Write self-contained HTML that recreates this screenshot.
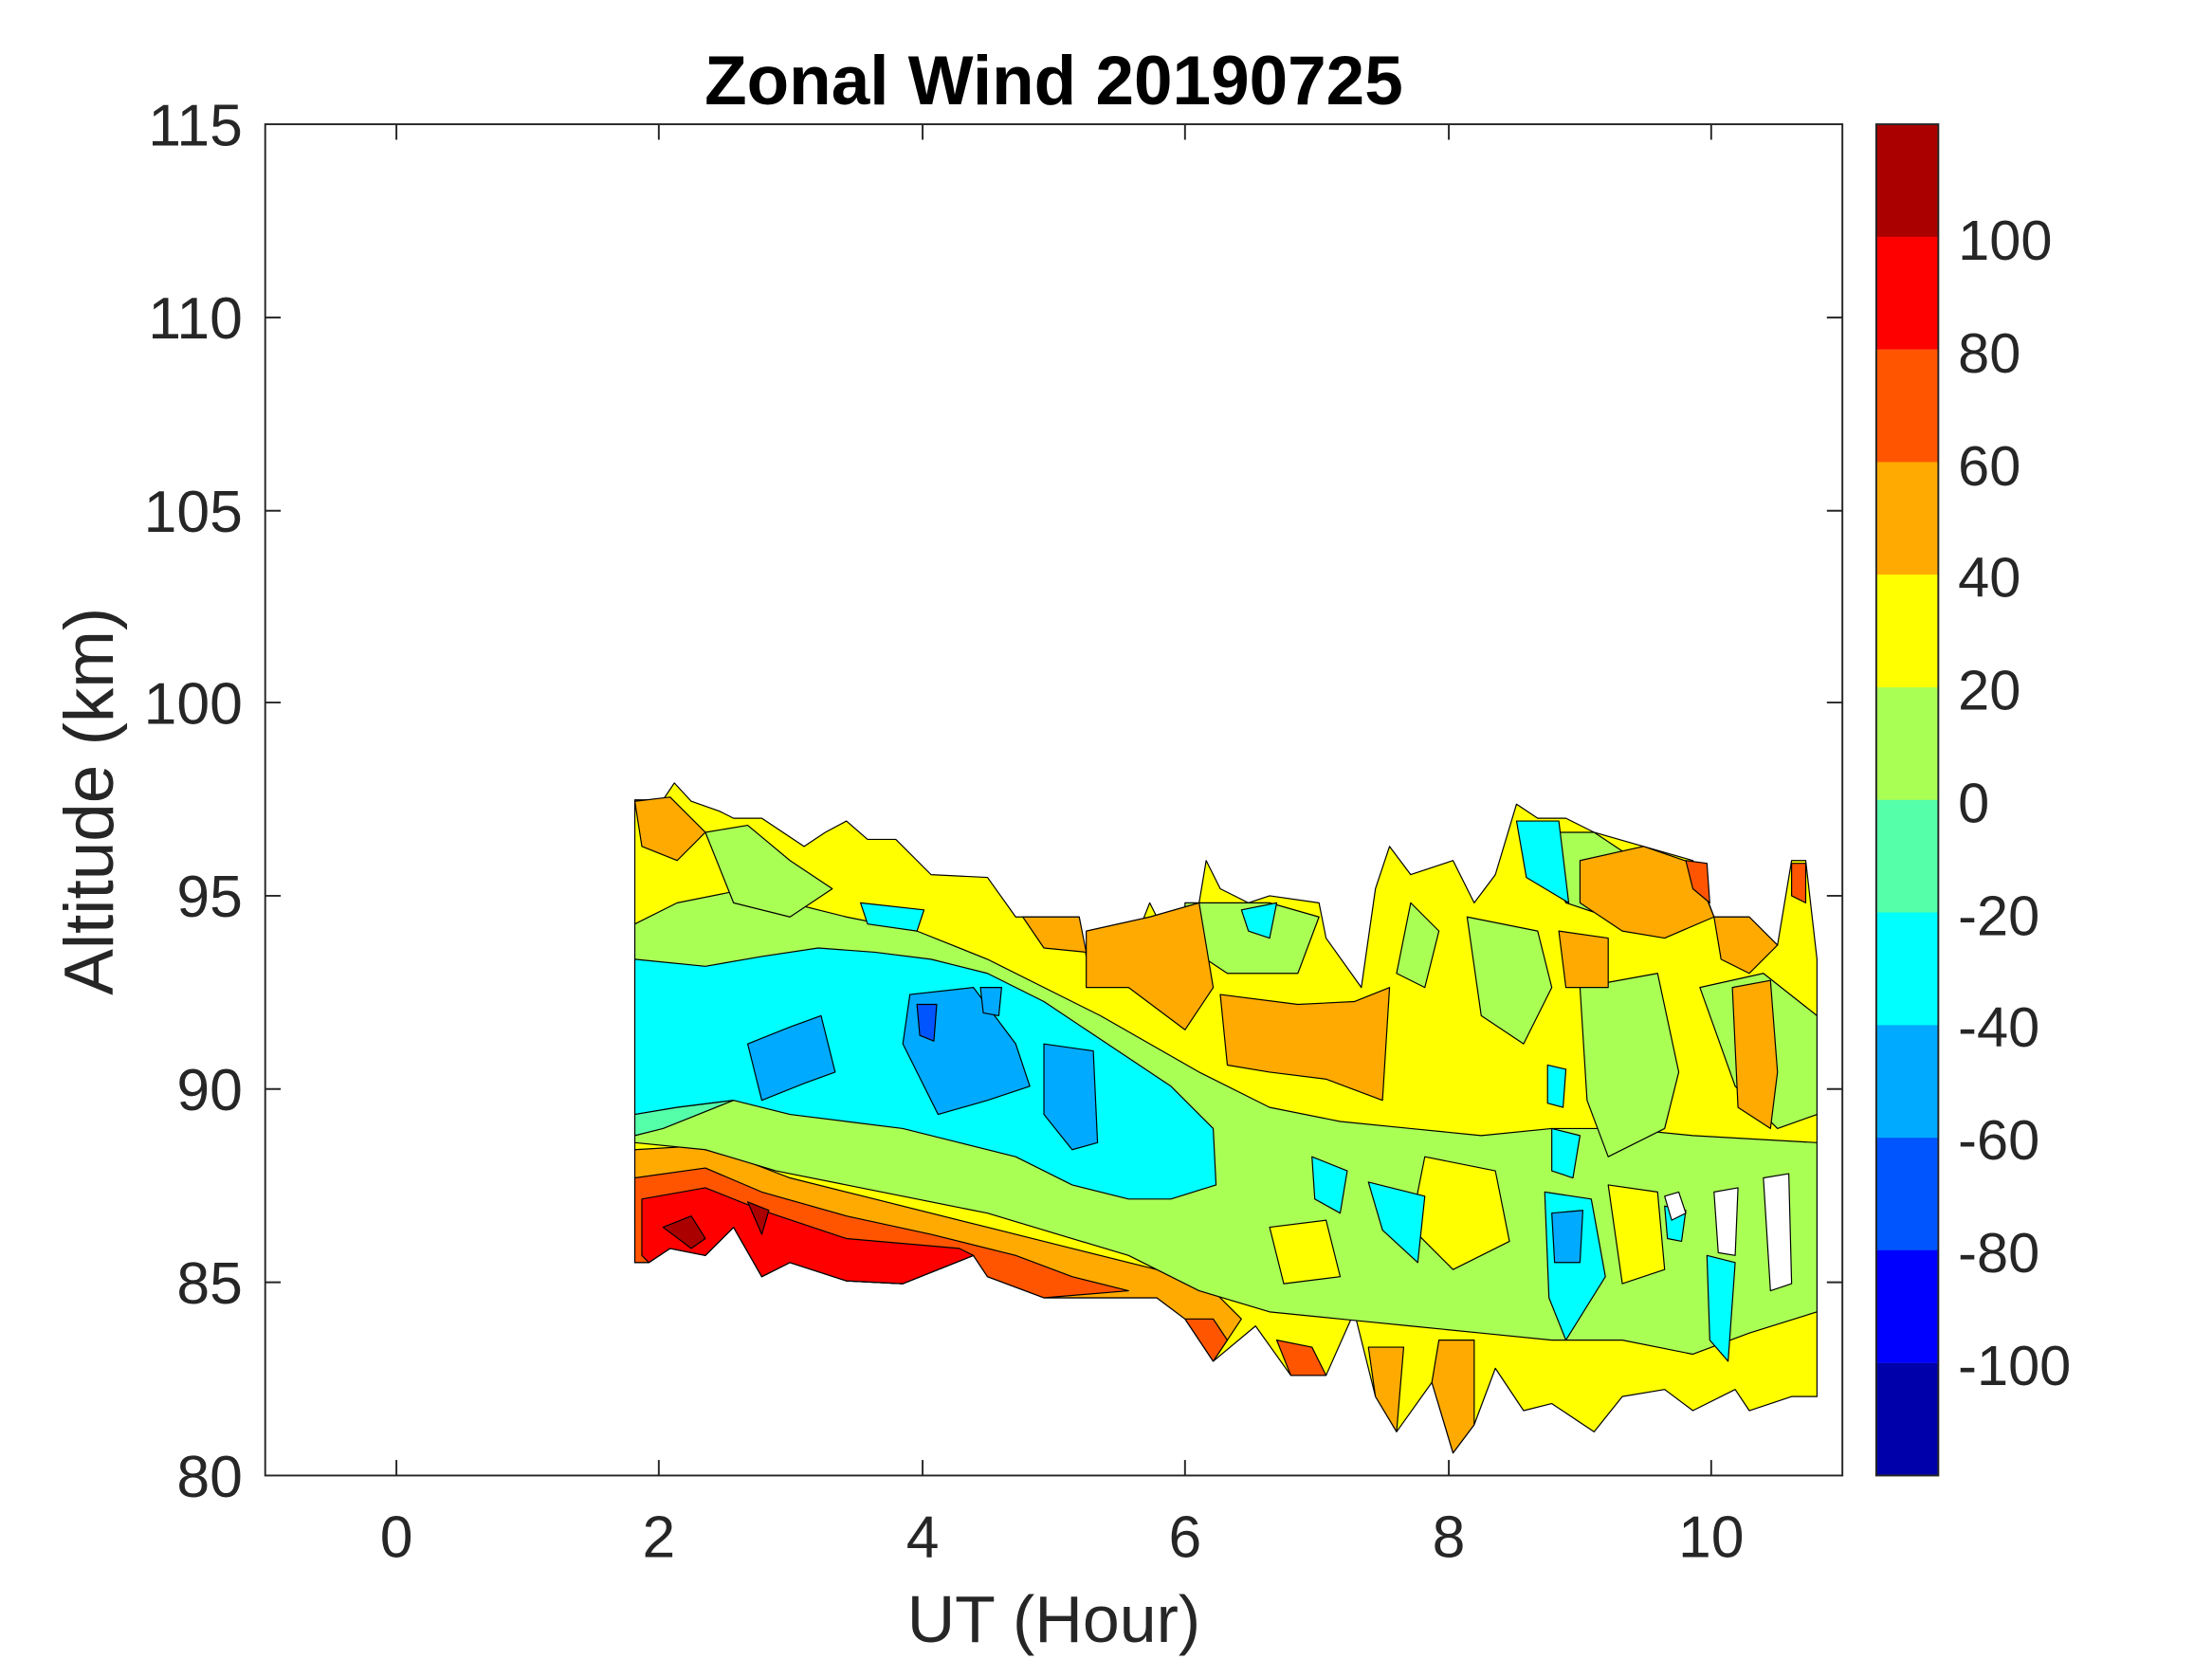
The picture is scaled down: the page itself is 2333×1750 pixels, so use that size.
<!DOCTYPE html>
<html><head><meta charset="utf-8"><style>html,body{margin:0;padding:0;background:#fff}svg{display:block}</style></head>
<body>
<svg width="2333" height="1750" viewBox="0 0 1568 1176" xmlns="http://www.w3.org/2000/svg" font-family="Liberation Sans, sans-serif">
<rect width="1568" height="1176" fill="#fff"/>
<g stroke="#000" stroke-width="0.8" stroke-linejoin="round">
<polygon fill="#ffff00" points="450,567 470,567 478,555 490,568 510,575 520,580 540,580 555,590 570,600 585,590 600,582 615,595 635,595 660,620 700,622 720,650 765,650 770,678 800,678 815,640 825,660 850,640 855,610 865,630 885,640 900,635 935,640 940,665 965,700 975,630 985,600 1000,620 1030,610 1045,640 1060,620 1075,570 1090,580 1110,580 1130,590 1165,600 1200,610 1215,650 1240,650 1260,670 1270,610 1280,610 1288,680 1288,990 1270,990 1240,1000 1230,985 1200,1000 1180,985 1150,990 1130,1015 1100,995 1080,1000 1060,970 1045,1010 1030,1030 1015,980 990,1015 975,990 960,930 940,975 915,975 890,940 860,965 840,935 820,920 740,920 700,905 690,890 640,910 600,908 560,895 540,905 520,870 500,890 475,885 460,895 450,895"/>
<polygon fill="#ffaa00" points="450,815 500,812 560,835 620,850 700,870 760,885 820,900 860,915 880,935 860,965 840,935 820,920 740,920 700,905 690,890 640,910 600,908 560,895 540,905 520,870 500,890 475,885 460,895 450,895"/>
<polygon fill="#ff5500" points="450,835 500,828 540,845 600,862 660,875 720,890 760,905 800,915 740,920 700,905 690,890 640,910 600,908 560,895 540,905 520,870 500,890 475,885 460,895 450,895"/>
<polygon fill="#ff0000" points="455,850 500,842 540,858 600,878 680,885 690,890 640,910 600,908 560,895 540,905 520,870 500,890 475,885 460,895 455,890"/>
<polygon fill="#aa0000" points="470,870 490,862 500,878 490,885"/>
<polygon fill="#aa0000" points="530,852 545,858 540,875"/>
<polygon fill="#aaff55" points="450,655 480,640 520,632 560,640 600,650 650,660 700,680 780,720 850,760 900,785 950,795 1000,800 1050,805 1100,800 1150,800 1200,805 1288,810 1288,930 1240,945 1200,960 1150,950 1100,950 1050,945 1000,940 950,935 900,930 850,915 800,890 750,875 700,860 650,850 600,840 550,830 500,815 450,810"/>
<polygon fill="#aaff55" points="500,590 530,585 560,610 590,630 560,650 520,640"/>
<polygon fill="#aaff55" points="840,640 900,640 935,650 920,690 870,690 840,670"/>
<polygon fill="#aaff55" points="1040,650 1090,660 1100,700 1080,740 1050,720"/>
<polygon fill="#aaff55" points="1120,700 1175,690 1190,760 1180,800 1140,820 1125,780"/>
<polygon fill="#aaff55" points="1085,590 1130,590 1160,610 1140,650 1110,640"/>
<polygon fill="#aaff55" points="1205,700 1250,690 1288,720 1288,790 1260,800 1230,770"/>
<polygon fill="#aaff55" points="1000,640 1020,660 1010,700 990,690"/>
<polygon fill="#ffff00" points="1010,820 1060,830 1070,880 1030,900 1000,870"/>
<polygon fill="#ffff00" points="1140,840 1175,845 1180,900 1150,910"/>
<polygon fill="#ffff00" points="900,870 940,865 950,905 910,910"/>
<polygon fill="#ffaa00" points="770,660 815,650 850,640 860,700 840,730 800,700 770,700"/>
<polygon fill="#ffaa00" points="865,705 920,712 960,710 985,700 980,780 940,765 900,760 870,755"/>
<polygon fill="#ffaa00" points="1120,610 1165,600 1200,612 1215,650 1180,665 1150,660 1120,640"/>
<polygon fill="#ffaa00" points="1228,700 1255,695 1260,760 1255,800 1232,785"/>
<polygon fill="#ffaa00" points="1215,650 1240,650 1260,670 1240,690 1220,680"/>
<polygon fill="#ffaa00" points="970,955 995,955 990,1015 975,990"/>
<polygon fill="#ffaa00" points="1020,950 1045,950 1045,1010 1030,1030 1015,980"/>
<polygon fill="#ffaa00" points="450,568 475,565 500,590 480,610 455,600"/>
<polygon fill="#ffaa00" points="725,650 765,650 770,675 740,672"/>
<polygon fill="#ffaa00" points="1105,660 1140,665 1140,700 1110,700"/>
<polygon fill="#ff5500" points="905,950 930,955 940,975 915,975"/>
<polygon fill="#ff5500" points="840,935 860,935 870,950 860,965"/>
<polygon fill="#ff5500" points="1195,610 1210,612 1212,640 1200,630"/>
<polygon fill="#ff5500" points="1270,612 1280,612 1280,640 1270,635"/>
<polygon fill="#00ffff" points="450,680 500,685 540,678 580,672 620,675 660,680 700,690 740,710 770,730 800,750 830,770 860,800 862,840 830,850 800,850 760,840 720,820 680,810 640,800 600,795 560,790 520,780 480,785 450,790"/>
<polygon fill="#55ffaa" points="450,790 480,785 520,780 470,800 450,805"/>
<polygon fill="#00aaff" points="530,740 560,728 582,720 592,760 570,768 540,780"/>
<polygon fill="#00aaff" points="645,705 690,700 720,740 730,770 700,780 665,790 650,760 640,740"/>
<polygon fill="#00aaff" points="740,740 775,745 778,810 760,815 740,790"/>
<polygon fill="#0055ff" points="650,712 664,712 662,738 652,734"/>
<polygon fill="#00aaff" points="695,700 710,700 708,720 697,718"/>
<polygon fill="#00ffff" points="1075,582 1105,582 1112,640 1082,622"/>
<polygon fill="#00ffff" points="1095,845 1128,850 1138,905 1110,950 1098,920"/>
<polygon fill="#00aaff" points="1100,860 1122,858 1120,895 1102,895"/>
<polygon fill="#00ffff" points="970,838 1010,848 1005,895 980,872"/>
<polygon fill="#00ffff" points="1097,755 1110,758 1108,785 1097,782"/>
<polygon fill="#00ffff" points="1100,800 1120,805 1115,835 1100,830"/>
<polygon fill="#00ffff" points="880,645 905,640 900,665 885,660"/>
<polygon fill="#00ffff" points="930,820 955,830 950,860 932,850"/>
<polygon fill="#00ffff" points="1210,890 1230,895 1225,965 1212,950"/>
<polygon fill="#00ffff" points="1180,855 1195,858 1192,880 1182,878"/>
<polygon fill="#ffffff" points="1180,848 1190,845 1195,860 1185,865"/>
<polygon fill="#ffffff" points="1215,845 1232,842 1230,890 1218,888"/>
<polygon fill="#ffffff" points="1250,835 1268,832 1270,910 1255,915"/>
<polygon fill="#00ffff" points="610,640 655,645 650,660 615,655"/>
</g>
<rect x="188" y="88" width="1118" height="958" fill="none" stroke="#262626" stroke-width="1.3"/>
<g stroke="#262626" stroke-width="1.3">
<line x1="281" y1="1046" x2="281" y2="1035"/><line x1="467" y1="1046" x2="467" y2="1035"/><line x1="654" y1="1046" x2="654" y2="1035"/><line x1="840" y1="1046" x2="840" y2="1035"/><line x1="1027" y1="1046" x2="1027" y2="1035"/><line x1="1213" y1="1046" x2="1213" y2="1035"/>
<line x1="281" y1="88" x2="281" y2="99"/><line x1="467" y1="88" x2="467" y2="99"/><line x1="654" y1="88" x2="654" y2="99"/><line x1="840" y1="88" x2="840" y2="99"/><line x1="1027" y1="88" x2="1027" y2="99"/><line x1="1213" y1="88" x2="1213" y2="99"/>
<line x1="188" y1="909" x2="199" y2="909"/><line x1="188" y1="772" x2="199" y2="772"/><line x1="188" y1="635" x2="199" y2="635"/><line x1="188" y1="498" x2="199" y2="498"/><line x1="188" y1="362" x2="199" y2="362"/><line x1="188" y1="225" x2="199" y2="225"/>
<line x1="1306" y1="909" x2="1295" y2="909"/><line x1="1306" y1="772" x2="1295" y2="772"/><line x1="1306" y1="635" x2="1295" y2="635"/><line x1="1306" y1="498" x2="1295" y2="498"/><line x1="1306" y1="362" x2="1295" y2="362"/><line x1="1306" y1="225" x2="1295" y2="225"/>
</g>
<g font-size="42" fill="#262626" text-anchor="middle">
<text x="281" y="1104">0</text><text x="467" y="1104">2</text><text x="654" y="1104">4</text><text x="840" y="1104">6</text><text x="1027" y="1104">8</text><text x="1213" y="1104">10</text>
</g>
<g font-size="42" fill="#262626" text-anchor="end">
<text x="172" y="1061">80</text><text x="172" y="924">85</text><text x="172" y="787">90</text><text x="172" y="650">95</text><text x="172" y="513">100</text><text x="172" y="377">105</text><text x="172" y="240">110</text><text x="172" y="103">115</text>
</g>
<text x="747" y="1164" font-size="47" fill="#262626" text-anchor="middle">UT (Hour)</text>
<text transform="translate(80,568) rotate(-90)" font-size="49" fill="#262626" text-anchor="middle">Altitude (km)</text>
<text x="747" y="74" font-size="49" font-weight="bold" fill="#000" text-anchor="middle">Zonal Wind 20190725</text>
<g>
<rect x="1330" y="88" width="44" height="80" fill="#aa0000"/>
<rect x="1330" y="167.8" width="44" height="80" fill="#ff0000"/>
<rect x="1330" y="247.7" width="44" height="80" fill="#ff5500"/>
<rect x="1330" y="327.5" width="44" height="80" fill="#ffaa00"/>
<rect x="1330" y="407.3" width="44" height="80" fill="#ffff00"/>
<rect x="1330" y="487.2" width="44" height="80" fill="#aaff55"/>
<rect x="1330" y="567" width="44" height="80" fill="#55ffaa"/>
<rect x="1330" y="646.8" width="44" height="80" fill="#00ffff"/>
<rect x="1330" y="726.7" width="44" height="80" fill="#00aaff"/>
<rect x="1330" y="806.5" width="44" height="80" fill="#0055ff"/>
<rect x="1330" y="886.3" width="44" height="80" fill="#0000ff"/>
<rect x="1330" y="966.2" width="44" height="79.8" fill="#0000aa"/>
<rect x="1330" y="88" width="44" height="958" fill="none" stroke="#262626" stroke-width="1.3"/>
</g>
<g font-size="40" fill="#262626">
<text x="1388" y="184">100</text><text x="1388" y="264">80</text><text x="1388" y="344">60</text><text x="1388" y="423">40</text><text x="1388" y="503">20</text><text x="1388" y="583">0</text><text x="1388" y="663">-20</text><text x="1388" y="742">-40</text><text x="1388" y="822">-60</text><text x="1388" y="902">-80</text><text x="1388" y="982">-100</text>
</g>
</svg>
</body></html>
